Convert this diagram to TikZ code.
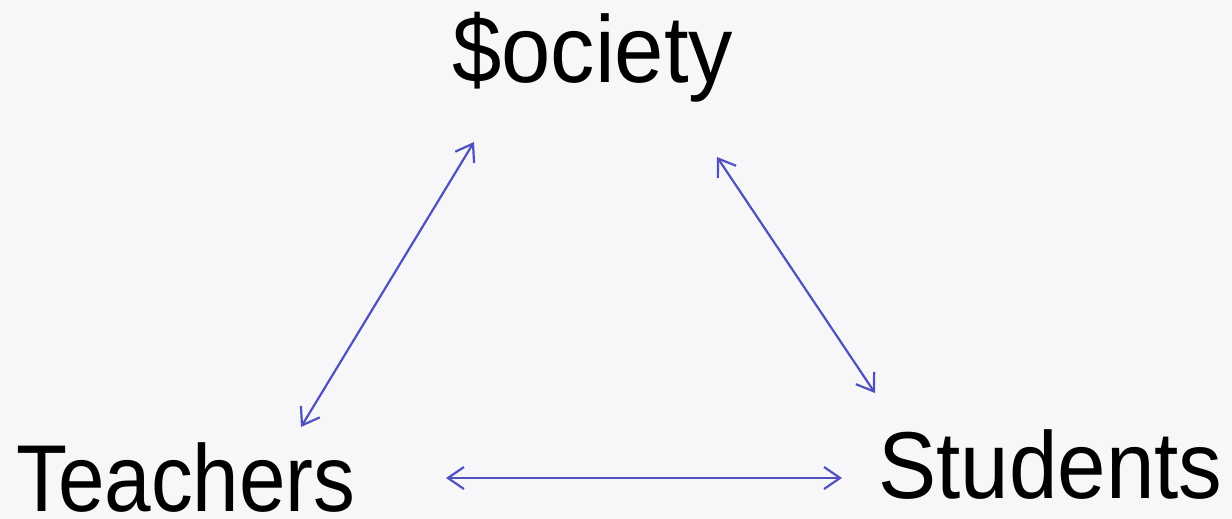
\documentclass[tikz,border=0pt]{standalone}
\usepackage{fontspec}
\setmainfont{Liberation Sans}
\usetikzlibrary{arrows.meta}
\definecolor{bg}{HTML}{F7F7F9}
\definecolor{arr}{HTML}{5050C0}
\begin{document}
\begin{tikzpicture}[x=1pt,y=-1pt,
  lbl/.style={inner sep=0pt,anchor=base west,font=\fontsize{95}{100}\selectfont},
  link/.style={draw=arr,line width=2.2pt,{Straight Barb[length=16pt,width=22pt,line width=2.2pt]}-{Straight Barb[length=16pt,width=22pt,line width=2.2pt]}}]
\fill[bg] (0,0) rectangle (1232,519);
\useasboundingbox (0,0) rectangle (1232,519);
\node[lbl] (society) at (452,82) {\scalebox{0.933}[1]{\$ociety}};
\node[lbl] (teachers) at (16,511) {\scalebox{0.88}[1]{Teachers}};
\node[lbl] (students) at (878,498) {\scalebox{0.918}[1]{Students}};
\coordinate (soL) at (474,142);
\coordinate (soR) at (717,157);
\coordinate (teU) at (301,427);
\coordinate (teR) at (446,478);
\coordinate (stU) at (875,393);
\coordinate (stL) at (842,478);
\draw[link] (teU) -- (soL);
\draw[link] (soR) -- (stU);
\draw[link] (teR) -- (stL);
\end{tikzpicture}
\end{document}
